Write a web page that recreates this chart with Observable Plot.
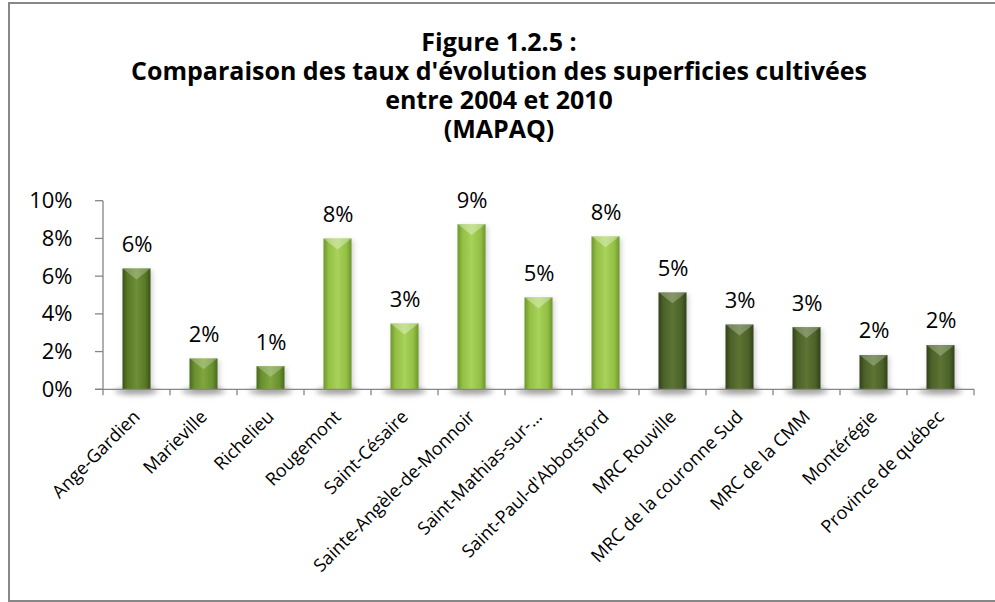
<!DOCTYPE html>
<html><head><meta charset="utf-8">
<script src="https://cdn.jsdelivr.net/npm/d3@7"></script>
<script src="https://cdn.jsdelivr.net/npm/@observablehq/plot@0.6"></script>
<style>
html,body{margin:0;padding:0;background:#fff;}
#frame{position:absolute;left:8px;top:2px;width:1000px;height:600px;border:2px solid #878787;border-right:none;box-sizing:border-box;}
.tline{position:absolute;left:0;width:998px;height:29px;text-align:center;font:bold 25px/29px "Open Sans";color:#000;white-space:nowrap;}
#chart{position:absolute;left:0;top:150px;}
</style></head><body>
<div id="frame"></div>
<div class="tline" style="top:27px">Figure 1.2.5 :</div>
<div class="tline" style="top:56px">Comparaison des taux d'évolution des superficies cultivées</div>
<div class="tline" style="top:85px">entre 2004 et 2010</div>
<div class="tline" style="top:114px">(MAPAQ)</div>
<div id="chart"></div>
<script>
const categories = ["Ange-Gardien","Marieville","Richelieu","Rougemont","Saint-Césaire","Sainte-Angèle-de-Monnoir","Saint-Mathias-sur-…","Saint-Paul-d'Abbotsford","MRC Rouville","MRC de la couronne Sud","MRC de la CMM","Montérégie","Province de québec"];
const taux = [0.0641, 0.0164, 0.0123, 0.0800, 0.0349, 0.0876, 0.0488, 0.0811, 0.0514, 0.0344, 0.0330, 0.0182, 0.0235];
const groupes = ["A","B","B","C","C","C","C","C","D","D","D","D","D"];
const yTicks = [0, 0.02, 0.04, 0.06, 0.08, 0.10];

const fmt = d3.format(".0%");
const data = categories.map((c, i) => ({categorie: c, taux: taux[i], groupe: groupes[i]}));
const INSET = 19.5;

function decor(index, scales) {
  const g = d3.create("svg:g");
  const x = scales.x, y = scales.y;
  const step = x(categories[1]) - x(categories[0]);
  const x0 = x(categories[0]), x1 = x(categories[categories.length - 1]) + step;
  const yb = y(0), yt = y(yTicks[yTicks.length - 1]);
  const axisColor = "#868686";
  g.append("line").attr("x1", x0).attr("x2", x0).attr("y1", yt).attr("y2", yb)
    .attr("stroke", axisColor).attr("stroke-width", 1.3);
  for (const t of yTicks) {
    g.append("line").attr("x1", x0 - 8).attr("x2", x0).attr("y1", y(t)).attr("y2", y(t))
      .attr("stroke", axisColor).attr("stroke-width", 1.3);
  }
  g.append("line").attr("x1", x0 - 8).attr("x2", x1).attr("y1", yb).attr("y2", yb)
    .attr("stroke", axisColor).attr("stroke-width", 1.3);
  for (let i = 0; i <= categories.length; i++) {
    const xx = x0 + i * step;
    g.append("line").attr("x1", xx).attr("x2", xx).attr("y1", yb).attr("y2", yb + 6)
      .attr("stroke", axisColor).attr("stroke-width", 1.3);
  }
  return g.node();
}

function shadows(index, scales) {
  const g = d3.create("svg:g").attr("filter", "url(#blur)");
  const x = scales.x, y = scales.y;
  const step = x(categories[1]) - x(categories[0]);
  categories.forEach((c, i) => {
    g.append("ellipse").attr("cx", x(c) + step / 2).attr("cy", y(0) + 2)
      .attr("rx", 22).attr("ry", 4).attr("fill", "#000").attr("fill-opacity", 0.28);
    g.append("rect").attr("x", x(c) + INSET + 2).attr("y", y(taux[i]) + 2)
      .attr("width", step - 2 * INSET).attr("height", y(0) - y(taux[i]))
      .attr("fill", "#000").attr("fill-opacity", 0.18);
  });
  return g.node();
}

function bevels(index, scales) {
  const g = d3.create("svg:g");
  const x = scales.x, y = scales.y;
  const step = x(categories[1]) - x(categories[0]);
  categories.forEach((c, i) => {
    const a = x(c) + INSET, b = x(c) + step - INSET, m = (a + b) / 2, t = y(taux[i]);
    g.append("path").attr("d", `M${a},${t}L${b},${t}L${m},${t + 11}Z`)
      .attr("fill", "#ffffff").attr("fill-opacity", groupes[i] === "C" ? 0.35 : 0.25);
  });
  return g.node();
}

const plot = Plot.plot({
  width: 995,
  height: 452,
  marginLeft: 97,
  marginRight: 16,
  marginTop: 50.7,
  marginBottom: 212.7,
  style: {fontFamily: "Open Sans", background: "transparent", overflow: "visible", color: "#000"},
  x: {domain: categories, padding: 0, label: null, axis: null},
  y: {domain: [0, 0.10], label: null, axis: null},
  color: {type: "identity"},
  marks: [
    shadows,
    Plot.barY(data, {x: "categorie", y: "taux", fill: d => `url(#grad-${d.groupe})`, insetLeft: INSET, insetRight: INSET}),
    bevels,
    Plot.text(data, {x: "categorie", y: "taux", text: d => fmt(d.taux), lineAnchor: "bottom", dy: -17, fontSize: 22, fill: "#000"}),
    Plot.axisY({ticks: yTicks, tickFormat: fmt, tickSize: 0, tickPadding: 25, fontSize: 22, label: null, fill: "#000"}),
    Plot.axisX({tickRotate: -45, tickSize: 0, tickPadding: 24, fontSize: 18, label: null, fill: "#000"}),
    decor
  ]
});

const defs = d3.select(plot).insert("defs", ":first-child");
const grads = {
  A: ["#3a5216", "#587826", "#6e8f38", "#587826", "#3a5216"],
  B: ["#4a6a1b", "#6a9030", "#7fa63e", "#6a9030", "#4a6a1b"],
  C: ["#6d962c", "#92bf44", "#a8d25a", "#92bf44", "#6d962c"],
  D: ["#31421a", "#4b6128", "#5d7434", "#4b6128", "#31421a"]
};
for (const [k, cols] of Object.entries(grads)) {
  const lg = defs.append("linearGradient").attr("id", `grad-${k}`)
    .attr("x1", 0).attr("x2", 1).attr("y1", 0).attr("y2", 0);
  [0, 0.18, 0.5, 0.82, 1].forEach((o, j) => lg.append("stop").attr("offset", o).attr("stop-color", cols[j]));
}
defs.append("filter").attr("id", "blur").attr("x", "-50%").attr("y", "-50%").attr("width", "200%").attr("height", "200%")
  .append("feGaussianBlur").attr("stdDeviation", 2.5);

document.getElementById("chart").appendChild(plot);
</script>
</body></html>
